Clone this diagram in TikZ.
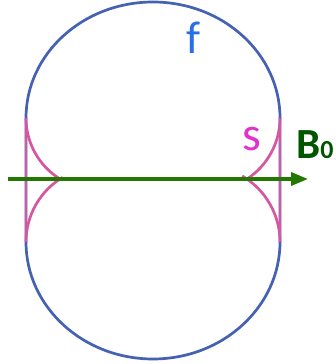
\documentclass[tikz,border=0pt]{standalone}
\usepackage{fontspec}
\setmainfont{Carlito}
\usetikzlibrary{arrows.meta}
\definecolor{cblue}{RGB}{68,97,178}
\definecolor{cpink}{RGB}{214,86,160}
\definecolor{cgreen}{RGB}{34,120,0}
\definecolor{cdgreen}{RGB}{0,85,0}
\definecolor{ftext}{RGB}{40,110,235}
\definecolor{stext}{RGB}{225,50,205}
\tikzset{
  outline/.style={draw=cblue,line width=2.7pt},
  sep/.style={draw=cpink,line width=2.7pt},
  field/.style={draw=cgreen,line width=3.4pt,-{Triangle[length=17pt,width=13pt]}},
}
\begin{document}
\begin{tikzpicture}[x=1pt,y=1pt]
\useasboundingbox (0,0) rectangle (335,364);
% outer shape
\draw[outline] (26,122) -- (26,246)
  arc[start angle=180,end angle=0,x radius=127,y radius=116]
  -- (280,122)
  arc[start angle=0,end angle=-180,x radius=127,y radius=117] -- cycle;
% separatrix
\draw[sep] (26,246) -- (26,122);
\draw[sep] (280,246) -- (280,122);
\draw[sep] (26,246) arc[start angle=180,end angle=238.3,radius=71.7];
\draw[sep] (26,122) arc[start angle=180,end angle=120.9,radius=75.4];
\draw[sep] (280,246) arc[start angle=0,end angle=-56.8,radius=72.9];
\draw[sep] (280,122) arc[start angle=0,end angle=59.6,radius=76.6];
% field arrow
\coordinate (bstart) at (8,185);
\coordinate (bend) at (308,185);
\draw[field] (bstart) -- (bend);
% labels
\node[anchor=base,inner sep=0pt,text=ftext,font=\fontsize{46}{46}\selectfont] (flabel) at (194,310) {f};
\node[anchor=base,inner sep=0pt,text=stext,font=\fontsize{48}{48}\selectfont] (slabel) at (252,213) {s};
\node[anchor=base west,inner sep=0pt,text=cdgreen,font=\bfseries\fontsize{43}{43}\selectfont] (blabel) at (296,205) {B\fontsize{26}{26}\selectfont 0};
\end{tikzpicture}
\end{document}
